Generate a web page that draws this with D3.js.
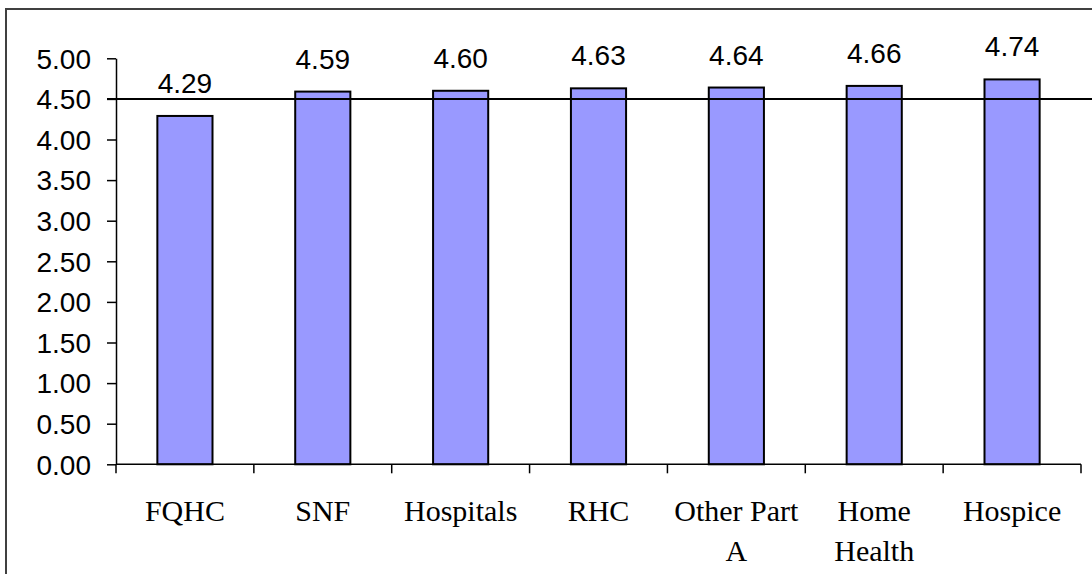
<!DOCTYPE html>
<html>
<head>
<meta charset="utf-8">
<script src="https://cdn.jsdelivr.net/npm/d3@7"></script>
<style>
  html, body { margin: 0; padding: 0; background: #fff; }
  svg { display: block; }
</style>
</head>
<body>
<svg id="chart" width="1092" height="574"></svg>
<script>
// Provider categories (label lines) and their mean scores
const categories = ["FQHC", "SNF", "Hospitals", "RHC", "Other Part A", "Home Health", "Hospice"];
const categoryLines = [["FQHC"], ["SNF"], ["Hospitals"], ["RHC"], ["Other Part", "A"], ["Home", "Health"], ["Hospice"]];
const scores = [4.29, 4.59, 4.60, 4.63, 4.64, 4.66, 4.74];
const yTicks = [0, 0.5, 1, 1.5, 2, 2.5, 3, 3.5, 4, 4.5, 5];
const referenceValue = 4.5;

const svg = d3.select("#chart");
const W = 1092, H = 574;
const plot = { left: 116, right: 1081, top: 58.3, bottom: 464.3 };

// outer frame (runs off the right and bottom edges)
svg.append("rect")
  .attr("x", 6).attr("y", 9)
  .attr("width", W + 20).attr("height", H + 20)
  .attr("fill", "none").attr("stroke", "#404040").attr("stroke-width", 2);

const y = d3.scaleLinear().domain([0, 5]).range([plot.bottom, plot.top]);
const xCat = d3.scaleBand().domain(categories).range([plot.left, plot.right]).padding(0);
const xBar = d3.scaleBand().domain(categories).range([plot.left, plot.right])
  .paddingInner(0.6).paddingOuter(0.3);

const sansFont = "'Liberation Sans', Arial, sans-serif";
const serifFont = "'Liberation Serif', 'Times New Roman', serif";

// y axis
const yAxis = svg.append("g")
  .attr("transform", `translate(${plot.left},0)`)
  .call(d3.axisLeft(y).tickValues(yTicks).tickFormat(d3.format(".2f")).tickSize(9).tickSizeOuter(0).tickPadding(16));
yAxis.select(".domain").attr("stroke", "#000").attr("stroke-width", 1.5);
yAxis.selectAll(".tick line").attr("stroke", "#000").attr("stroke-width", 1.5);
yAxis.selectAll(".tick text")
  .attr("fill", "#000")
  .style("font-family", sansFont)
  .style("font-size", "28px")
  .attr("dy", "0.35em");

// bars
svg.append("g").selectAll("rect")
  .data(scores)
  .join("rect")
  .attr("x", (d, i) => xBar(categories[i]))
  .attr("y", d => y(d))
  .attr("width", xBar.bandwidth())
  .attr("height", d => y(0) - y(d))
  .attr("fill", "#9999ff")
  .attr("stroke", "#000")
  .attr("stroke-width", 2);

// x axis baseline with boundary ticks
const xg = svg.append("g");
xg.append("line")
  .attr("x1", plot.left).attr("x2", plot.right)
  .attr("y1", y(0)).attr("y2", y(0))
  .attr("stroke", "#000").attr("stroke-width", 1.5);
const boundaries = categories.map(c => xCat(c)).concat([xCat(categories[categories.length - 1]) + xCat.bandwidth()]);
xg.selectAll("line.tick")
  .data(boundaries)
  .join("line")
  .attr("class", "tick")
  .attr("x1", d => d).attr("x2", d => d)
  .attr("y1", y(0)).attr("y2", y(0) + 9)
  .attr("stroke", "#000").attr("stroke-width", 1.5);

// category labels
const labels = xg.selectAll("text.cat")
  .data(categoryLines)
  .join("text")
  .attr("class", "cat")
  .attr("text-anchor", "middle")
  .attr("fill", "#000")
  .style("font-family", serifFont)
  .style("font-size", "30px");
labels.each(function (lines, i) {
  const cx = xCat(categories[i]) + xCat.bandwidth() / 2;
  d3.select(this).selectAll("tspan")
    .data(lines)
    .join("tspan")
    .attr("x", cx)
    .attr("y", (d, j) => 521 + j * 40)
    .text(d => d);
});

// reference line at 4.50
svg.append("line")
  .attr("x1", plot.left - 9).attr("x2", W)
  .attr("y1", y(referenceValue)).attr("y2", y(referenceValue))
  .attr("stroke", "#000").attr("stroke-width", 2);

// value labels above bars
svg.append("g").selectAll("text")
  .data(scores)
  .join("text")
  .attr("x", (d, i) => xBar(categories[i]) + xBar.bandwidth() / 2)
  .attr("y", d => y(d) - 23)
  .attr("text-anchor", "middle")
  .attr("fill", "#000")
  .style("font-family", sansFont)
  .style("font-size", "28px")
  .text(d => d3.format(".2f")(d));
</script>
</body>
</html>
